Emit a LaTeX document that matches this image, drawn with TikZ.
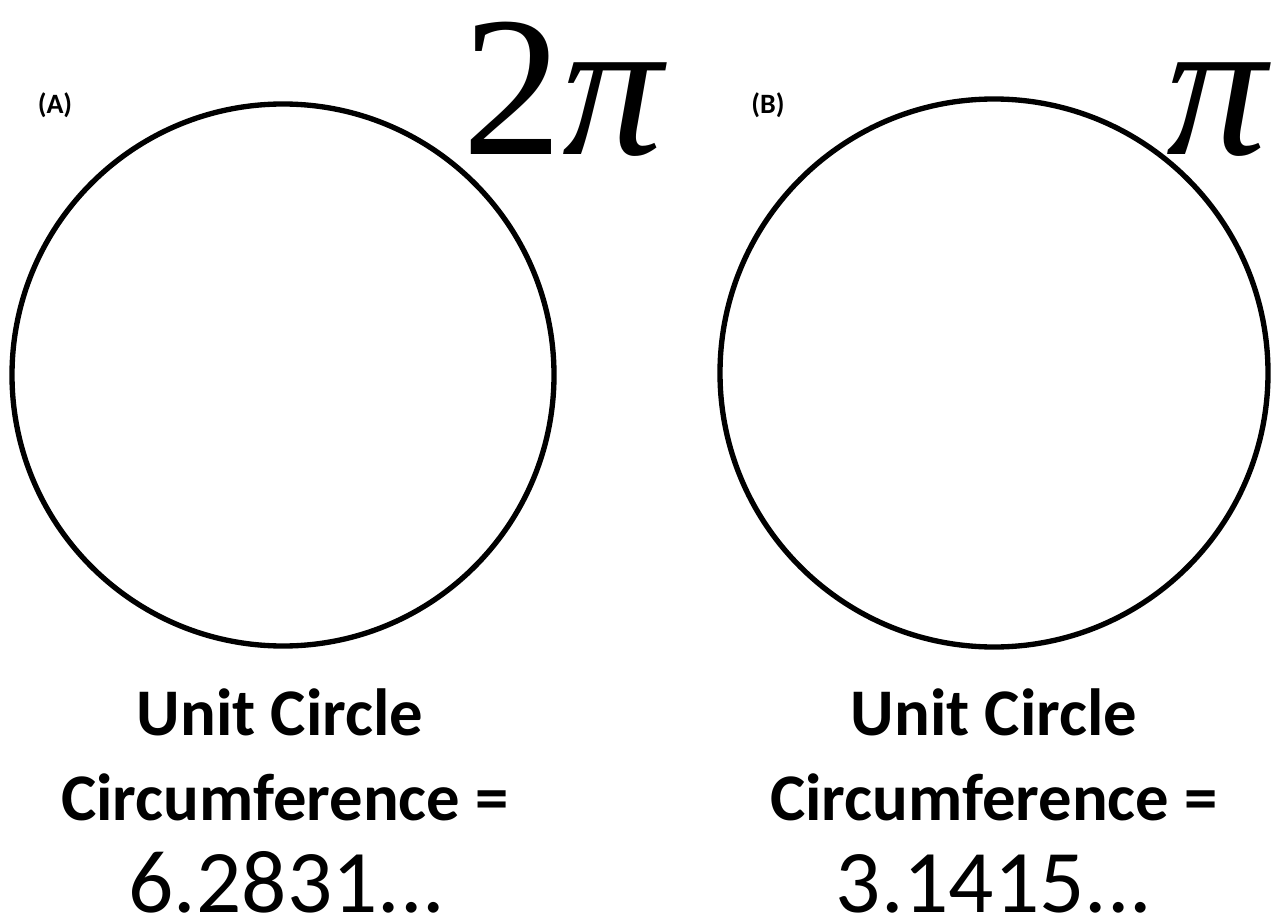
\documentclass[tikz,border=0pt]{standalone}
\usepackage{fontspec}
\newfontfamily\carlitofont{Carlito}
\newfontfamily\serfont{Liberation Serif}
\begin{document}
\begin{tikzpicture}[x=0.75pt,y=-0.75pt,
  ring/.style={draw=black,line width=4pt},
  lbl/.style={font=\carlitofont\bfseries\fontsize{21}{24}\selectfont,inner sep=0},
  head/.style={font=\carlitofont\bfseries\fontsize{50}{56}\selectfont,inner sep=0,anchor=base},
  num/.style={font=\carlitofont\fontsize{67}{76}\selectfont,inner sep=0,anchor=base,text depth=0pt},
  big/.style={font=\serfont\fontsize{150}{160}\selectfont,inner sep=0,anchor=base west}]
\useasboundingbox (0,0) rectangle (1281,920);
\node[ring,circle,minimum size=542pt*0.75] (ca) at (283,375) {};
\node[ring,circle,minimum size=548pt*0.75] (cb) at (994,373) {};
\node[lbl] (la) at (55,105) {(A)};
\node[lbl] (lb) at (768,105) {(B)};
\node[big] (pa) at (462,155) {2\textit{π}};
\node[big] (pb) at (1166,155) {\textit{π}};
\node[head] (ua) at (280,735) {Unit Circle};
\node[head] (ub) at (994,735) {Unit Circle};
\node[head] (fa) at (285,820) {Circumference =};
\node[head] (fb) at (994,820) {Circumference =};
\node[num] (na) at (287,912) {6.2831...};
\node[num] (nb) at (994,912) {3.1415...};
\end{tikzpicture}
\end{document}
